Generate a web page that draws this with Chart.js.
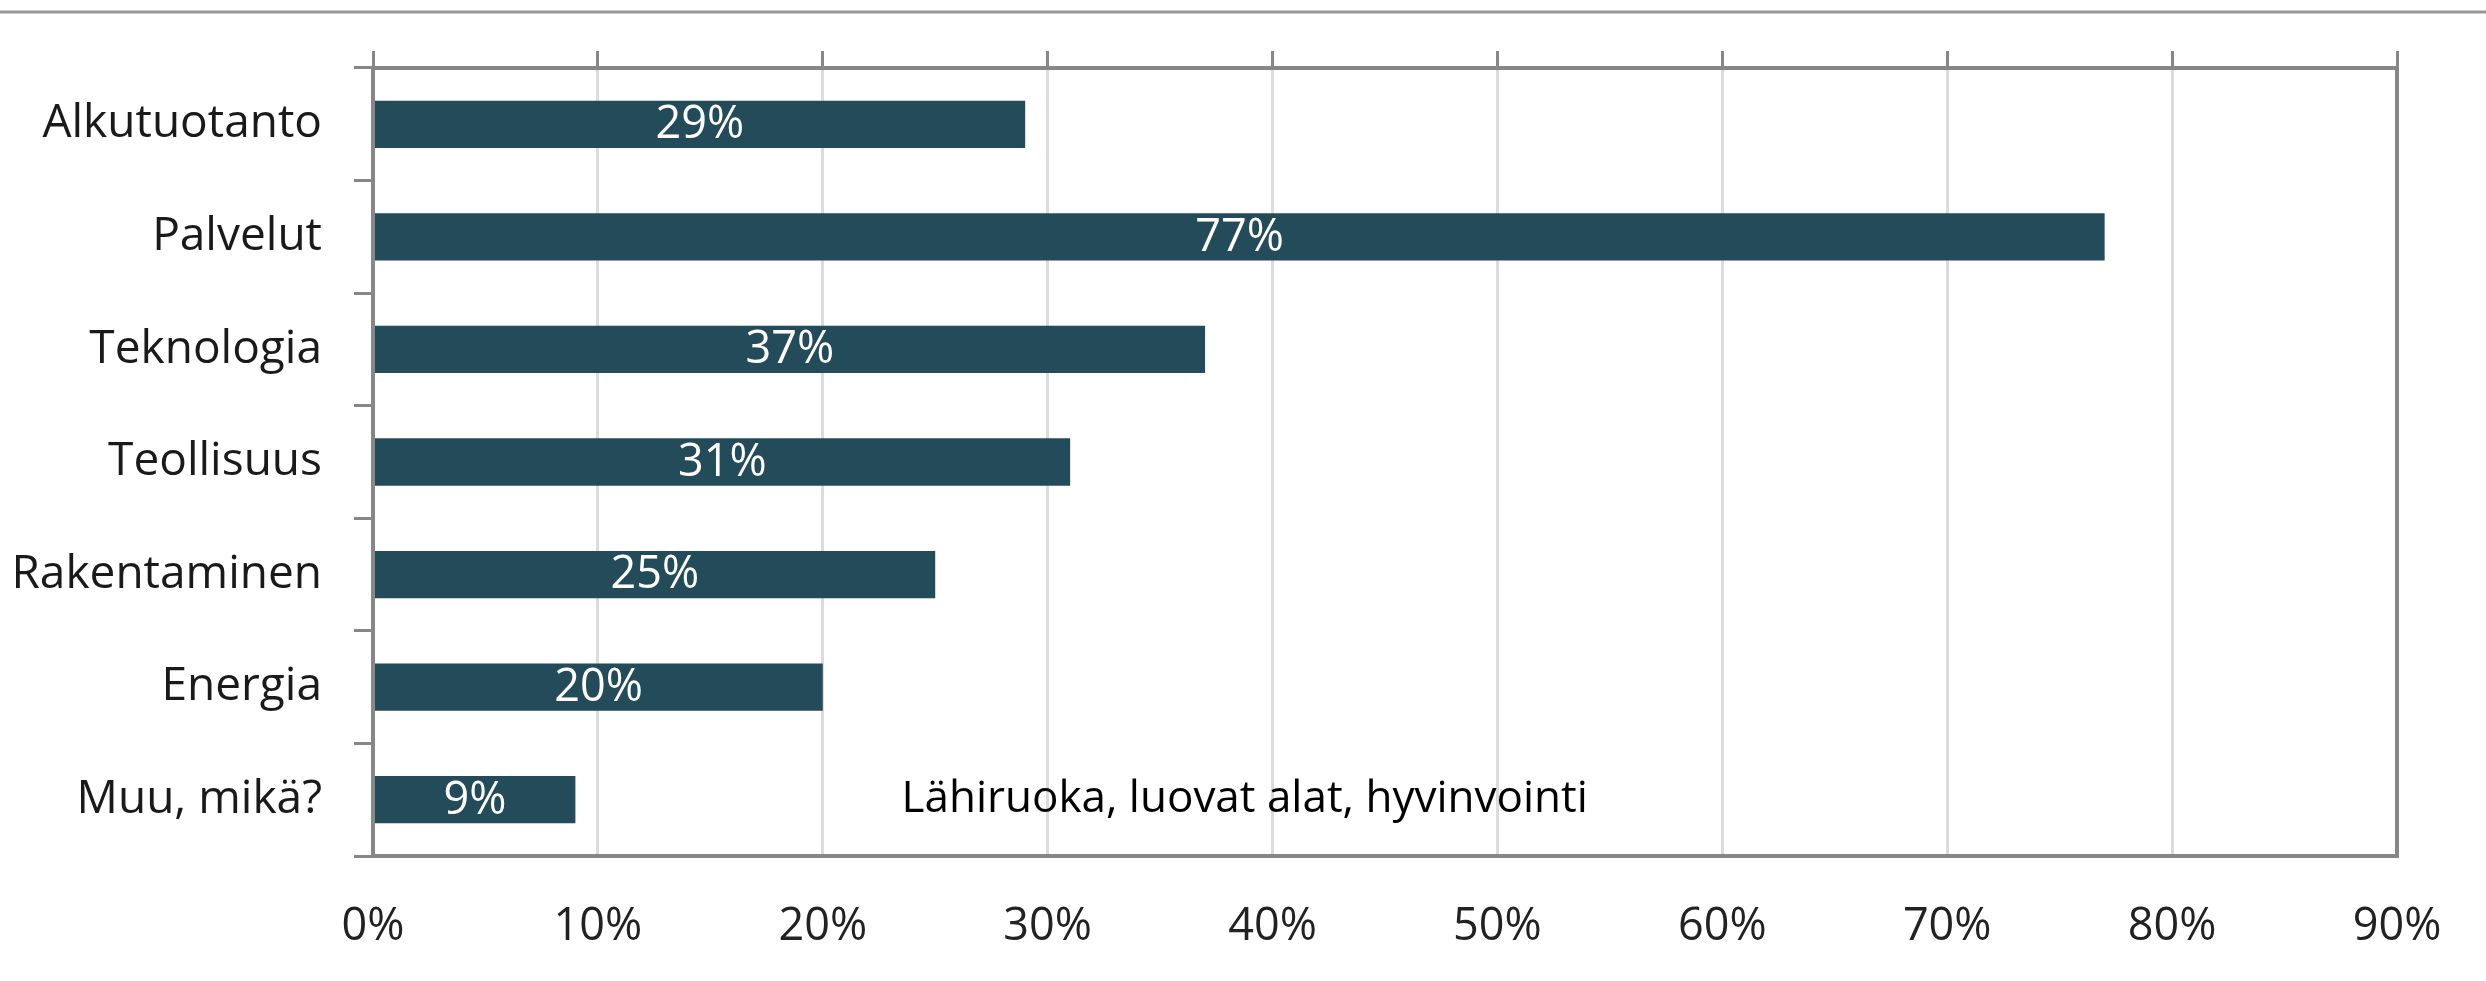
<!DOCTYPE html>
<html>
<head>
<meta charset="utf-8">
<script src="https://cdn.jsdelivr.net/npm/chart.js@4/dist/chart.umd.min.js"></script>
<style>
  html, body { margin: 0; padding: 0; background: #fff; }
  #wrap { width: 2486px; height: 981px; }
</style>
</head>
<body>
<div id="wrap"><canvas id="myChart" width="2486" height="981"></canvas></div>
<script>
// categories and share of answers (%)
var sectors = ["Alkutuotanto", "Palvelut", "Teknologia", "Teollisuus", "Rakentaminen", "Energia", "Muu, mikä?"];
var shares = [29, 77, 37, 31, 25, 20, 9];
var xTicks = [0, 10, 20, 30, 40, 50, 60, 70, 80, 90];
// free text answer shown on the "Muu, mikä?" row
var otherNote = "Lähiruoka, luovat alat, hyvinvointi";
var otherNoteAt = 23.5;

var barColor = "#234b59";
var frameColor = "#878787";

// white value labels in the middle of each bar
var valueLabels = {
  id: "valueLabels",
  afterDatasetsDraw: function(chart) {
    var ctx = chart.ctx;
    var meta = chart.getDatasetMeta(0);
    ctx.save();
    ctx.fillStyle = "#ffffff";
    ctx.font = "45px 'Open Sans'";
    ctx.textAlign = "center";
    ctx.textBaseline = "middle";
    meta.data.forEach(function(bar, i) {
      var mid = (bar.x + bar.base) / 2;
      ctx.fillText(shares[i] + "%", mid, bar.y + 1);
    });
    ctx.restore();
  }
};

// frame round the plot, line at the top, and the note text
var extras = {
  id: "extras",
  afterDraw: function(chart) {
    var ctx = chart.ctx;
    var a = chart.chartArea;
    ctx.save();
    ctx.strokeStyle = "#999999";
    ctx.lineWidth = 3;
    ctx.beginPath();
    ctx.moveTo(0, 12);
    ctx.lineTo(2486, 12);
    ctx.stroke();

    ctx.strokeStyle = frameColor;
    ctx.lineWidth = 4;
    ctx.strokeRect(a.left, a.top, a.right - a.left, a.bottom - a.top);

    var xs = chart.scales.x, ys = chart.scales.y;
    ctx.fillStyle = "#000000";
    ctx.font = "44px 'Open Sans'";
    ctx.textAlign = "left";
    ctx.textBaseline = "middle";
    ctx.fillText(otherNote, xs.getPixelForValue(otherNoteAt), ys.getPixelForValue(6));
    ctx.restore();
  }
};

new Chart("myChart", {
  type: "bar",
  data: {
    labels: sectors,
    datasets: [{
      data: shares,
      backgroundColor: barColor,
      borderWidth: 0,
      categoryPercentage: 1,
      barPercentage: 0.42,
      xAxisID: "x",
      yAxisID: "y"
    }]
  },
  options: {
    indexAxis: "y",
    responsive: false,
    animation: false,
    layout: { padding: { top: 51, right: 89, bottom: 0, left: 0 } },
    plugins: {
      legend: { display: false },
      tooltip: { enabled: false },
      title: { display: false }
    },
    scales: {
      x: {
        type: "linear",
        position: "bottom",
        min: 0,
        max: 90,
        afterBuildTicks: function(s) { s.ticks = xTicks.map(function(v) { return { value: v }; }); },
        afterFit: function(s) { s.height = 125; },
        grid: { color: "#dcdcdc", lineWidth: 3, drawTicks: false },
        border: { display: false },
        ticks: {
          padding: 44,
          color: "#222222",
          font: { family: "'Open Sans'", size: 45 },
          callback: function(v) { return v + "%"; }
        }
      },
      x2: {
        type: "linear",
        position: "top",
        min: 0,
        max: 90,
        afterBuildTicks: function(s) { s.ticks = xTicks.map(function(v) { return { value: v }; }); },
        afterFit: function(s) { s.height = 17; },
        grid: { drawOnChartArea: false, drawTicks: true, tickLength: 17, color: frameColor, lineWidth: 3 },
        border: { display: false },
        ticks: { display: false }
      },
      y: {
        type: "category",
        afterFit: function(s) { s.width = 373; },
        grid: { drawOnChartArea: false, drawTicks: true, tickLength: 19, color: frameColor, lineWidth: 3, offset: true },
        border: { display: false },
        ticks: {
          padding: 32,
          color: "#1a1a1a",
          font: { family: "'Open Sans'", size: 46 }
        }
      }
    }
  },
  plugins: [valueLabels, extras]
});
</script>
</body>
</html>
